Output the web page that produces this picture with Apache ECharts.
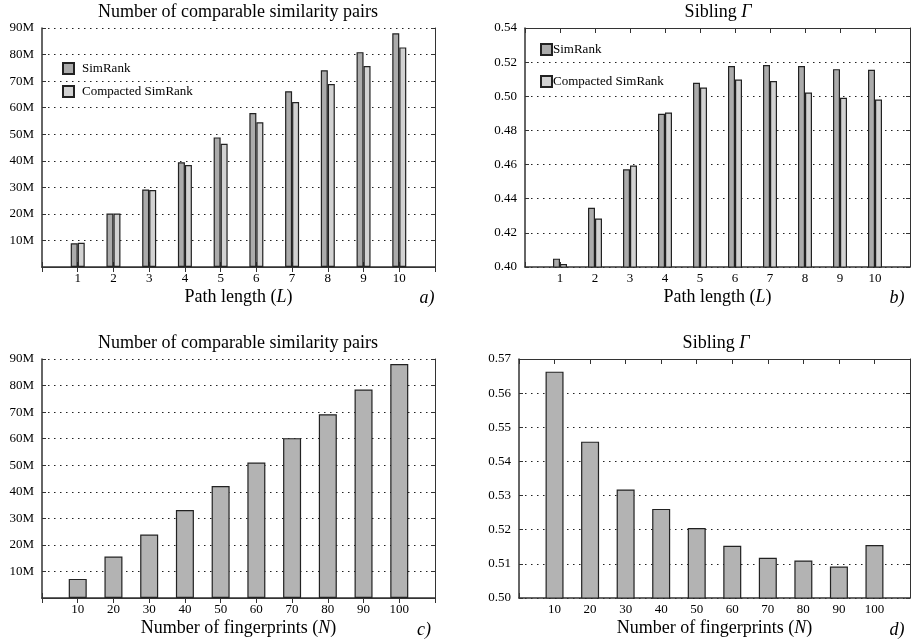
<!DOCTYPE html>
<html>
<head>
<meta charset="utf-8">
<script src="https://cdn.jsdelivr.net/npm/echarts@6/dist/echarts.min.js"></script>
<style>
  html, body { margin: 0; padding: 0; background: #fff; }
  #main { width: 913px; height: 641px; }
</style>
</head>
<body>
<div id="main"></div>
<script>
// 横轴类目
var pathLength = ['1', '2', '3', '4', '5', '6', '7', '8', '9', '10'];
var fingerprints = ['10', '20', '30', '40', '50', '60', '70', '80', '90', '100'];
// a) 可比较的相似对数量 (M)
var pairsSimRank = [8.9, 20.1, 29.2, 39.4, 48.8, 58.0, 66.2, 74.1, 80.9, 88.0];
var pairsCompacted = [9.1, 20.1, 29.0, 38.4, 46.4, 54.5, 62.1, 68.9, 75.7, 82.7];
// b) Sibling Γ
var gammaSimRank = [0.4049, 0.4347, 0.4572, 0.4897, 0.5079, 0.5177, 0.5183, 0.5177, 0.5159, 0.5155];
var gammaCompacted = [0.4018, 0.4284, 0.4595, 0.4905, 0.5051, 0.5098, 0.5089, 0.5022, 0.4991, 0.4981];
// c) d) 按指纹数量
var pairsByN = [7.2, 15.6, 23.9, 33.1, 42.2, 51.0, 60.2, 69.2, 78.5, 88.1];
var gammaByN = [0.5663, 0.5458, 0.5318, 0.5261, 0.5205, 0.5153, 0.5118, 0.5110, 0.5092, 0.5155];

var serif = 'Liberation Serif';
var frame = '#333';

// 两端各补一个空位，让 1..10 落在 0..11 的内部
function padCats(arr) { return [''].concat(arr, ['']); }
function padData(arr) { return ['-'].concat(arr, ['-']); }

function xBottom(gi, cats, name) {
  return {
    gridIndex: gi, type: 'category', data: padCats(cats), boundaryGap: false,
    position: 'bottom',
    axisLine: { lineStyle: { color: frame, width: 1.5 } },
    axisTick: { inside: true, length: 5, interval: 0, lineStyle: { color: frame } },
    axisLabel: { interval: 0, margin: 5, color: '#000', fontFamily: serif, fontSize: 13 },
    splitLine: { show: false },
    name: name, nameLocation: 'middle', nameGap: 21,
    nameTextStyle: {
      color: '#000', fontFamily: serif, fontSize: 18,
      rich: { i: { fontStyle: 'italic', fontFamily: serif, fontSize: 18, color: '#000' } }
    }
  };
}
function xTop(gi, cats) {
  return {
    gridIndex: gi, type: 'category', data: padCats(cats), boundaryGap: false,
    position: 'top',
    axisLine: { lineStyle: { color: frame, width: 1 } },
    axisTick: { inside: true, length: 5, interval: 0, lineStyle: { color: frame } },
    axisLabel: { show: false },
    splitLine: { show: false }
  };
}
function yLeft(gi, min, max, step, fmt) {
  return {
    gridIndex: gi, type: 'value', min: min, max: max, interval: step, position: 'left',
    axisLine: { show: true, lineStyle: { color: frame, width: 1.5 } },
    axisTick: { show: true, inside: true, length: 4, lineStyle: { color: frame } },
    axisLabel: { margin: 8, color: '#000', fontFamily: serif, fontSize: 13, formatter: fmt },
    splitLine: { show: true, lineStyle: { color: '#222', type: [1.5, 4.5], width: 1.2 } }
  };
}
function yRight(gi, min, max, step) {
  return {
    gridIndex: gi, type: 'value', min: min, max: max, interval: step, position: 'right',
    axisLine: { show: true, lineStyle: { color: frame, width: 1 } },
    axisTick: { show: true, inside: true, length: 4, lineStyle: { color: frame } },
    axisLabel: { show: false },
    splitLine: { show: false }
  };
}
function bar(name, gi, data, color, width) {
  return {
    name: name, type: 'bar', xAxisIndex: gi * 2, yAxisIndex: gi * 2,
    data: padData(data), barWidth: width, barGap: '0%',
    itemStyle: { color: color, borderColor: '#222', borderWidth: 1.2 },
    emphasis: { disabled: true }
  };
}

var fmtM = function (v) { return v === 0 ? '' : v + 'M'; };
var fmt2 = function (v) { return v.toFixed(2); };

var chart = echarts.init(document.getElementById('main'));
var option = {
  animation: false,
  grid: [
    { left: 42, top: 28, width: 393, height: 239 },
    { left: 525, top: 28, width: 387, height: 239 },
    { left: 42, top: 359, width: 393, height: 239 },
    { left: 519, top: 359, width: 393, height: 239 }
  ],
  xAxis: [
    xBottom(0, pathLength, 'Path length ({i|L})'), xTop(0, pathLength),
    xBottom(1, pathLength, 'Path length ({i|L})'), xTop(1, pathLength),
    xBottom(2, fingerprints, 'Number of fingerprints ({i|N})'), xTop(2, fingerprints),
    xBottom(3, fingerprints, 'Number of fingerprints ({i|N})'), xTop(3, fingerprints)
  ],
  yAxis: [
    yLeft(0, 0, 90, 10, fmtM), yRight(0, 0, 90, 10),
    yLeft(1, 0.40, 0.54, 0.02, fmt2), yRight(1, 0.40, 0.54, 0.02),
    yLeft(2, 0, 90, 10, fmtM), yRight(2, 0, 90, 10),
    yLeft(3, 0.50, 0.57, 0.01, fmt2), yRight(3, 0.50, 0.57, 0.01)
  ],
  legend: [
    {
      left: 57, top: 57, orient: 'vertical', icon: 'rect', itemWidth: 11, itemHeight: 11, itemGap: 10,
      data: ['SimRank', 'Compacted SimRank'], selectedMode: false,
      textStyle: { color: '#000', fontFamily: serif, fontSize: 13, padding: [0, 0, 0, 3] }
    },
    {
      left: 535, top: 38, orient: 'vertical', icon: 'rect', itemWidth: 11, itemHeight: 11, itemGap: 19,
      data: ['SimRank', 'Compacted SimRank'], selectedMode: false,
      textStyle: { color: '#000', fontFamily: serif, fontSize: 13, padding: [0, 0, 0, -4] }
    }
  ],
  series: [
    bar('SimRank', 0, pairsSimRank, '#ababab', 7),
    bar('Compacted SimRank', 0, pairsCompacted, '#d2d2d2', 7),
    bar('SimRank', 1, gammaSimRank, '#ababab', 7),
    bar('Compacted SimRank', 1, gammaCompacted, '#d2d2d2', 7),
    bar('pairsN', 2, pairsByN, '#b3b3b3', 18),
    bar('gammaN', 3, gammaByN, '#b3b3b3', 18)
  ],
  graphic: [
    // 标题
    { type: 'text', x: 238, y: 12, style: { text: 'Number of comparable similarity pairs', font: '18px "Liberation Serif"', fill: '#000', align: 'center', verticalAlign: 'middle' } },
    { type: 'text', x: 718, y: 12, style: { text: '{n|Sibling }{g|Γ}', align: 'center', verticalAlign: 'middle',
      rich: { n: { fontFamily: serif, fontSize: 18, color: '#000' }, g: { fontFamily: serif, fontSize: 18, fontStyle: 'italic', color: '#000' } } } },
    { type: 'text', x: 238, y: 343, style: { text: 'Number of comparable similarity pairs', font: '18px "Liberation Serif"', fill: '#000', align: 'center', verticalAlign: 'middle' } },
    { type: 'text', x: 716, y: 343, style: { text: '{n|Sibling }{g|Γ}', align: 'center', verticalAlign: 'middle',
      rich: { n: { fontFamily: serif, fontSize: 18, color: '#000' }, g: { fontFamily: serif, fontSize: 18, fontStyle: 'italic', color: '#000' } } } },
    // 子图编号
    { type: 'text', x: 427, y: 298, style: { text: 'a)', font: 'italic 18px "Liberation Serif"', fill: '#000', align: 'center', verticalAlign: 'middle' } },
    { type: 'text', x: 897, y: 298, style: { text: 'b)', font: 'italic 18px "Liberation Serif"', fill: '#000', align: 'center', verticalAlign: 'middle' } },
    { type: 'text', x: 424, y: 630, style: { text: 'c)', font: 'italic 18px "Liberation Serif"', fill: '#000', align: 'center', verticalAlign: 'middle' } },
    { type: 'text', x: 897, y: 630, style: { text: 'd)', font: 'italic 18px "Liberation Serif"', fill: '#000', align: 'center', verticalAlign: 'middle' } }
  ]
};
chart.setOption(option);
</script>
</body>
</html>
